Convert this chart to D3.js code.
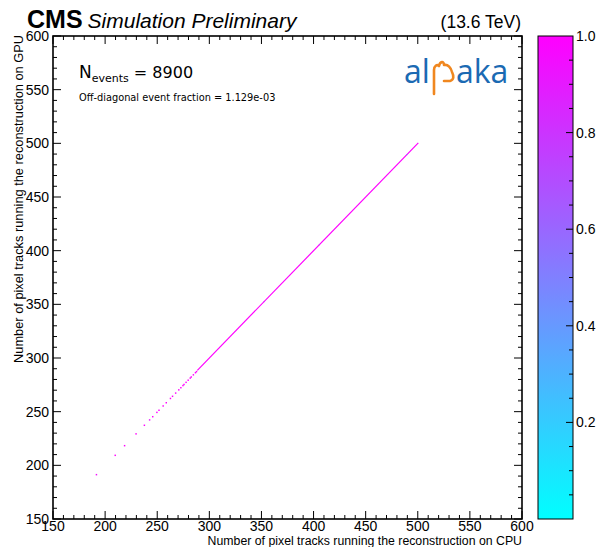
<!DOCTYPE html>
<html>
<head>
<meta charset="utf-8">
<script src="https://cdn.jsdelivr.net/npm/d3@7"></script>
<style>
  html, body { margin: 0; padding: 0; background: #fff; }
  svg { display: block; }
</style>
</head>
<body>
<svg id="chart" width="598" height="547"></svg>
<script>
// ---------------- data ----------------
const axisDomain = [150, 600];
const xTickLabels = [150, 200, 250, 300, 350, 400, 450, 500, 550, 600];
const yTickLabels = [150, 200, 250, 300, 350, 400, 450, 500, 550, 600];
const zTickLabels = [0.2, 0.4, 0.6, 0.8, 1.0];
// isolated filled diagonal bins (CPU = GPU), with normalised content
const sparseBins = [191, 209, 218, 229, 237, 242, 245, 249, 251, 255, 258, 262,
                    264, 267, 270, 272, 274, 275, 277, 279, 281, 282, 284, 286, 287];
const sparseZ    = [0.95, 1, 1, 1, 1, 0.9, 1, 1, 1, 1, 1, 1,
                    1, 1, 1, 1, 1, 1, 1, 1, 1, 1, 1, 1, 1];
// contiguous filled diagonal run [first bin, last bin], content
const denseRuns = [[288, 500]];
const denseZ = [1.0];
// a few lower-content bins
const extraCPU = [352, 405, 489];
const extraGPU = [352, 405, 489];
const extraZ   = [0.75, 0.7, 0.45];
const nEvents = 8900;
const offDiagFraction = "1.129e-03";

// ---------------- layout ----------------
const svg = d3.select("#chart");
const L = 53, R = 522, T = 36, B = 519;
const x = d3.scaleLinear().domain(axisDomain).range([L, R]);
const y = d3.scaleLinear().domain(axisDomain).range([B, T]);
const zColor = d3.scaleLinear().domain([0, 1]).range(["#00ffff", "#ff00ff"]).interpolate(d3.interpolateRgb);

// ---------------- marks ----------------
const g = svg.append("g");
denseRuns.forEach((r, i) => {
  g.append("line")
    .attr("x1", x(r[0] + 0.5)).attr("y1", y(r[0] + 0.5))
    .attr("x2", x(r[1] + 0.5)).attr("y2", y(r[1] + 0.5))
    .attr("stroke", zColor(denseZ[i]))
    .attr("stroke-width", 1.2);
});
g.selectAll("rect.sp").data(sparseBins.map((v, i) => ({v, z: sparseZ[i]})))
  .enter().append("rect")
  .attr("x", d => x(d.v)).attr("y", d => y(d.v + 1))
  .attr("width", d => x(d.v + 1) - x(d.v) + 0.4)
  .attr("height", d => y(d.v) - y(d.v + 1) + 0.4)
  .attr("fill", d => zColor(d.z));
g.selectAll("rect.ex").data(extraCPU.map((v, i) => ({cx: v, gy: extraGPU[i], z: extraZ[i]})))
  .enter().append("rect")
  .attr("x", d => x(d.cx)).attr("y", d => y(d.gy + 1))
  .attr("width", d => x(d.cx + 1) - x(d.cx))
  .attr("height", d => y(d.gy) - y(d.gy + 1))
  .attr("fill", d => zColor(d.z));

// ---------------- frame + ticks ----------------
const fontAxis = "'Liberation Sans', Arial, Helvetica, sans-serif";
const majorLen = 8, minorLen = 4;
const minorTicks = d3.range(axisDomain[0], axisDomain[1] + 0.1, 10);
const tk = svg.append("g").attr("stroke", "#000").attr("stroke-width", 1);
minorTicks.forEach(v => {
  const len = xTickLabels.includes(v) ? majorLen : minorLen;
  tk.append("line").attr("x1", x(v)).attr("x2", x(v)).attr("y1", B).attr("y2", B - len);
  tk.append("line").attr("x1", x(v)).attr("x2", x(v)).attr("y1", T).attr("y2", T + len);
  const leny = yTickLabels.includes(v) ? majorLen : minorLen;
  tk.append("line").attr("y1", y(v)).attr("y2", y(v)).attr("x1", L).attr("x2", L + leny);
  tk.append("line").attr("y1", y(v)).attr("y2", y(v)).attr("x1", R).attr("x2", R - leny);
});
svg.append("rect").attr("x", L).attr("y", T).attr("width", R - L).attr("height", B - T)
  .attr("fill", "none").attr("stroke", "#000").attr("stroke-width", 1.6);

// tick labels
svg.append("g").selectAll("text").data(xTickLabels).enter().append("text")
  .attr("x", d => x(d)).attr("y", 531)
  .attr("text-anchor", "middle")
  .attr("font-family", fontAxis).attr("font-size", 14)
  .text(d => d);
svg.append("g").selectAll("text").data(yTickLabels).enter().append("text")
  .attr("x", 49).attr("y", d => y(d) + 5)
  .attr("text-anchor", "end")
  .attr("font-family", fontAxis).attr("font-size", 14)
  .text(d => d);

// axis titles
svg.append("text")
  .attr("x", R).attr("y", 545)
  .attr("text-anchor", "end")
  .attr("font-family", fontAxis).attr("font-size", 12.3)
  .text("Number of pixel tracks running the reconstruction on CPU");
svg.append("text")
  .attr("transform", `translate(23,${T - 1}) rotate(-90)`)
  .attr("text-anchor", "end")
  .attr("font-family", fontAxis).attr("font-size", 12.8)
  .text("Number of pixel tracks running the reconstruction on GPU");

// ---------------- colour bar ----------------
const cbL = 538, cbR = 573;
const zScale = d3.scaleLinear().domain([0, 1]).range([B, T]);
const defs = svg.append("defs");
const grad = defs.append("linearGradient").attr("id", "cool")
  .attr("x1", 0).attr("y1", 1).attr("x2", 0).attr("y2", 0);
[0, 0.25, 0.5, 0.75, 1].forEach(s => grad.append("stop").attr("offset", s).attr("stop-color", zColor(s)));
svg.append("rect").attr("x", cbL).attr("y", T).attr("width", cbR - cbL).attr("height", B - T)
  .attr("fill", "url(#cool)").attr("stroke", "#000").attr("stroke-width", 1);
const zMinor = d3.range(0.05, 1.0, 0.05);
const ztk = svg.append("g").attr("stroke", "#000").attr("stroke-width", 1);
zMinor.forEach(v => {
  const isMaj = zTickLabels.some(t => Math.abs(t - v) < 1e-6);
  ztk.append("line").attr("x1", cbR).attr("x2", cbR - (isMaj ? 7 : 4))
    .attr("y1", zScale(v)).attr("y2", zScale(v));
});
svg.append("g").selectAll("text").data(zTickLabels).enter().append("text")
  .attr("x", cbR + 3).attr("y", d => zScale(d) + 5)
  .attr("font-family", fontAxis).attr("font-size", 14)
  .text(d => d.toFixed(1));

// ---------------- header texts ----------------
const hdr = svg.append("text").attr("x", 27).attr("y", 28).attr("font-family", fontAxis);
hdr.append("tspan").attr("font-weight", "bold").attr("font-size", 25).text("CMS");
hdr.append("tspan").attr("dx", 5).attr("font-style", "italic").attr("font-size", 21).text("Simulation Preliminary");
svg.append("text").attr("x", 521).attr("y", 28).attr("text-anchor", "end")
  .attr("font-family", fontAxis).attr("font-size", 17.5).text("(13.6 TeV)");

const fontDV = "'DejaVu Sans', sans-serif";
const ne = svg.append("text").attr("x", 79).attr("y", 78).attr("font-family", fontDV).attr("font-size", 16);
ne.append("tspan").attr("font-size", 17).text("N");
ne.append("tspan").attr("font-size", 11).attr("dy", 4).text("events");
ne.append("tspan").attr("dy", -4).text(" = " + nEvents);
svg.append("text").attr("x", 79).attr("y", 101).attr("font-family", fontDV).attr("font-size", 9.8)
  .text("Off-diagonal event fraction = " + offDiagFraction);

// ---------------- alpaka logo ----------------
const logo = svg.append("g");
const blue = "#1b6ab3", orange = "#f0871f";
logo.append("text").attr("x", 404).attr("y", 83).attr("font-family", "'Open Sans', sans-serif")
  .attr("font-size", 32).attr("fill", blue).text("al");
logo.append("text").attr("x", 456).attr("y", 83).attr("font-family", "'Open Sans', sans-serif")
  .attr("font-size", 32).attr("fill", blue).text("aka");
logo.append("path")
  .attr("d", "M434,94 L434,70 C434,66 437,64 439,66 C440,61 444,61 444,65 C448,64 451,68 452,72 C454,76 454,80 450,81 L444,81")
  .attr("fill", "none").attr("stroke", orange).attr("stroke-width", 2.6).attr("stroke-linecap", "round").attr("stroke-linejoin", "round");
</script>
</body>
</html>
